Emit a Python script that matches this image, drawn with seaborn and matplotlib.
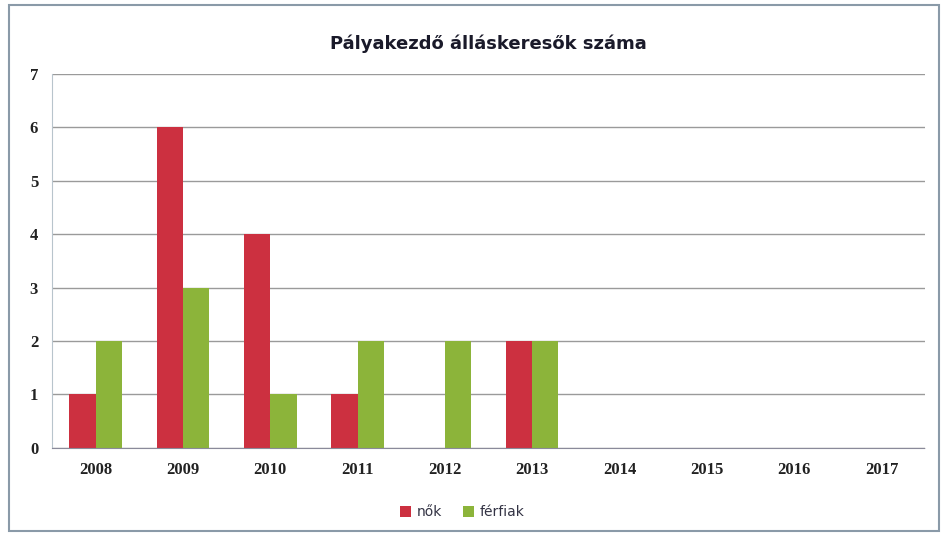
import pandas as pd
import matplotlib.pyplot as plt
import seaborn as sns
from matplotlib.patches import Rectangle

# Adatok
evek = ["2008", "2009", "2010", "2011", "2012", "2013", "2014", "2015", "2016", "2017"]
nok = [1, 6, 4, 1, 0, 2, 0, 0, 0, 0]
ferfiak = [2, 3, 1, 2, 2, 2, 0, 0, 0, 0]

df = pd.DataFrame({"ev": evek * 2,
                   "ertek": nok + ferfiak,
                   "nem": ["nők"] * len(evek) + ["férfiak"] * len(evek)})

sns.set_style("white")
plt.rcParams["font.family"] = ["DejaVu Sans"]

fig = plt.figure(figsize=(9.46, 5.37), dpi=100)
ax = fig.add_axes([0.055, 0.166, 0.923, 0.696])

sns.barplot(data=df, x="ev", y="ertek", hue="nem",
            palette={"nők": "#CC3040", "férfiak": "#8CB43A"},
            saturation=1, width=0.6, linewidth=0, ax=ax, legend=True)

ax.set_ylim(0, 7)
ax.set_yticks(range(8))
ax.grid(True, axis="y", color="#9a9a9a", linewidth=1)
ax.set_axisbelow(True)
for s in ["top", "right"]:
    ax.spines[s].set_visible(False)
ax.spines["left"].set_color("#b8c4cc")
ax.spines["bottom"].set_color("#8a8a9a")
ax.spines["bottom"].set_linestyle((0, (2, 1)))
ax.tick_params(axis="y", length=6, color="#9a9a9a", labelsize=12, pad=4)
ax.tick_params(axis="x", length=0, pad=10, labelsize=12)
ax.set_xlabel("")
ax.set_ylabel("")
for lab in ax.get_xticklabels() + ax.get_yticklabels():
    lab.set_fontfamily("Liberation Serif")
    lab.set_fontweight("bold")
    lab.set_color("#222222")

ax.set_title("Pályakezdő álláskeresők száma", fontsize=13, fontweight="bold",
             color="#1a1a2a", pad=18)

leg = ax.legend(loc="upper center", bbox_to_anchor=(0.47, -0.12), ncol=2,
                frameon=False, fontsize=10, handlelength=0.8, handleheight=0.8,
                columnspacing=1.5, handletextpad=0.4)
for t in leg.get_texts():
    t.set_color("#333344")

# keret
fig.patches.append(Rectangle((0.009, 0.012), 0.984, 0.978, transform=fig.transFigure,
                             fill=False, edgecolor="#8a9aa8", linewidth=1.5))

fig.savefig("out.png", dpi=100)
